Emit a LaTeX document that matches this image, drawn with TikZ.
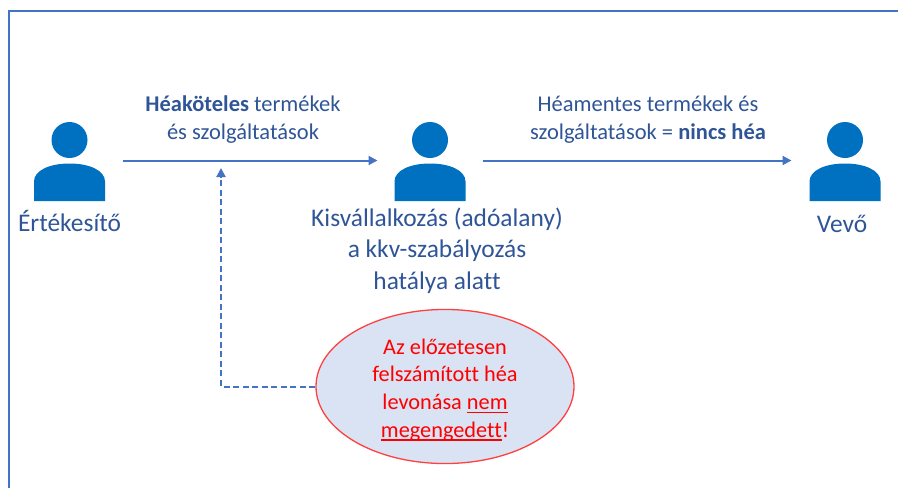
\documentclass[tikz,border=0pt]{standalone}
\usepackage{fontspec}
\setmainfont{Carlito}[Ligatures=NoCommon]
\usetikzlibrary{shapes.geometric,arrows.meta}
\definecolor{framec}{HTML}{4472C4}
\definecolor{textc}{HTML}{2F5597}
\definecolor{iconc}{HTML}{0070C0}
\definecolor{fillc}{HTML}{DAE3F3}
\definecolor{redc}{HTML}{FF0000}
\newcommand\redul[1]{\setbox0\hbox{#1}\rlap{\rule[-3.5pt]{\wd0}{1.4pt}}\box0 }
\tikzset{
  personbox/.style={minimum width=71pt,minimum height=80pt,inner sep=0pt,outer sep=0pt},
  lab/.style={text=textc,align=center,inner sep=0pt,font=\fontsize{25.4}{31.5}\selectfont},
  flowlab/.style={text=textc,align=center,inner sep=0pt,font=\fontsize{22.5}{27.5}\selectfont},
  flow/.style={draw=framec,line width=2pt,-{Triangle[length=9pt,width=9pt]}},
  noteflow/.style={draw=framec,line width=2pt,dash pattern=on 6pt off 3.5pt,-{Triangle[length=9pt,width=9pt]}},
  person icon/.pic={
    \fill[iconc] (0,-20.5) circle (18pt);
    \fill[iconc] (-35.5,40.5) -- (-35.5,21) .. controls (-35.5,10) and (-20,3) .. (0,3)
      .. controls (20,3) and (35.5,10) .. (35.5,21) -- (35.5,40.5) -- cycle;
  }
}
\begin{document}
\begin{tikzpicture}[x=1pt,y=-1pt]
\useasboundingbox (0,0) rectangle (898,488);
\draw[framec,line width=2pt] (8.5,488) -- (8.5,11) -- (898,11);
\node[personbox] (seller) at (69.5,160.5) {};
\node[personbox] (small) at (430,160.5) {};
\node[personbox] (buyer) at (845,160.5) {};
\pic at (seller.center) {person icon};
\pic at (small.center) {person icon};
\pic at (buyer.center) {person icon};
\node[lab] (sellerlab) at (69.5,221) {Értékesítő};
\node[lab] (smalllab) at (437,250.5) {Kisvállalkozás (adóalany)\\a kkv-szabályozás\\hatálya alatt};
\node[lab] (buyerlab) at (842,224) {Vevő};
\node[flowlab] (l1) at (243,119.5) {\textbf{Héaköteles} termékek\\és szolgáltatások};
\node[flowlab] (l2) at (648,119.5) {Héamentes termékek és\\szolgáltatások = \textbf{nincs héa}};
\draw[flow,shorten <=18pt,shorten >=17pt] (seller.east) -- (small.west);
\draw[flow,shorten <=17.5pt,shorten >=18pt] (small.east) -- (buyer.west);
\node[ellipse,draw=redc!75!white,fill=fillc,line width=1.3pt,minimum width=258pt,minimum height=147pt,inner sep=0pt,text=redc,align=center,font=\fontsize{22.3}{27.7}\selectfont] (note) at (445,386.5)
  {\rule{0pt}{22pt}Az előzetesen\\felszámított héa\\levonása \redul{nem}\\\redul{megengedett}!};
\coordinate (target) at (221,168);
\draw[noteflow] (note.west) -- (221,386.5) -- (target);
\end{tikzpicture}
\end{document}
